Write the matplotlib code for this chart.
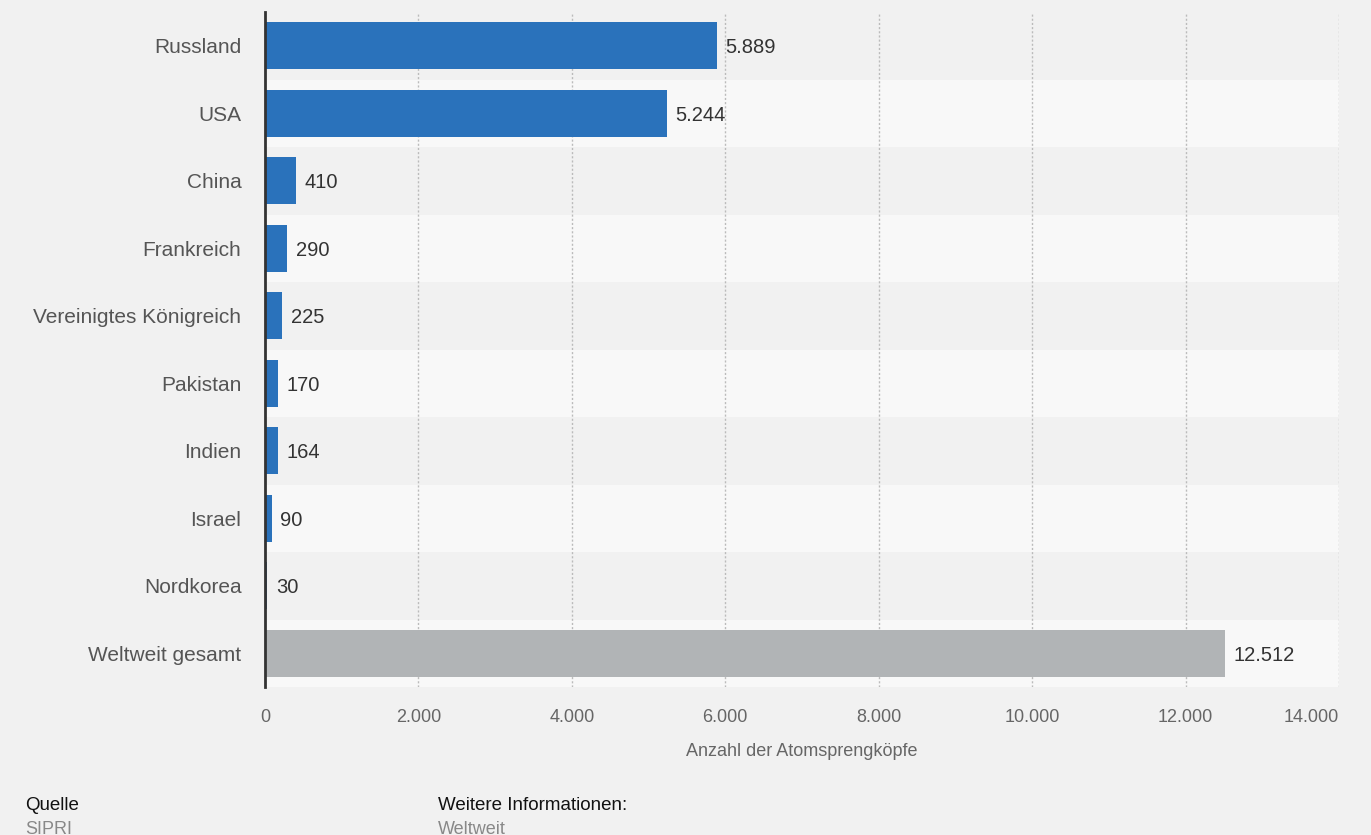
import matplotlib
matplotlib.use("Agg")
import matplotlib.pyplot as plt

categories = ["Russland", "USA", "China", "Frankreich", "Vereinigtes Königreich",
              "Pakistan", "Indien", "Israel", "Nordkorea", "Weltweit gesamt"]
values = [5889, 5244, 410, 290, 225, 170, 164, 90, 30, 12512]
value_labels = ["5.889", "5.244", "410", "290", "225", "170", "164", "90", "30", "12.512"]
xticks = [0, 2000, 4000, 6000, 8000, 10000, 12000, 14000]
xtick_labels = ["0", "2.000", "4.000", "6.000", "8.000", "10.000", "12.000", "14.000"]

plt.rcParams['font.family'] = ['Liberation Sans', 'DejaVu Sans']

W, H = 1371, 835
fig = plt.figure(figsize=(W/100, H/100), dpi=100)
fig.patch.set_facecolor("#f1f1f1")
ax = fig.add_axes([265/W, 1-687/H, (1339-265)/W, (687-12)/H])
ax.set_facecolor("#f1f1f1")

n = len(categories)
ypos = list(range(n))
for i in ypos:
    col = "#f1f1f1" if i % 2 == 0 else "#f8f8f8"
    ax.axhspan(i-0.5, i+0.5, color=col, zorder=0, lw=0)

colors = ["#2a72bb"]*(n-1) + ["#b1b4b6"]
ax.barh(ypos, values, height=0.7, color=colors, zorder=3)
for i, (v, lab) in enumerate(zip(values, value_labels)):
    ax.text(v + 110, i, lab, va="center_baseline", ha="left", fontsize=14.5,
            color="#333333", zorder=4)

ax.set_ylim(n-0.5, -0.5)
ax.set_xlim(0, 14000)
ax.set_yticks(ypos)
ax.set_yticklabels(categories, fontsize=15, color="#555555")
ax.set_xticks(xticks)
ax.set_xticklabels(xtick_labels, fontsize=13, color="#666666")
ax.get_xticklabels()[-1].set_horizontalalignment("right")
ax.tick_params(axis="both", length=0)
ax.tick_params(axis="y", pad=17)
ax.tick_params(axis="x", pad=16)
for g in xticks[1:]:
    ax.axvline(g, color="#bbbbbb", lw=1, ls=(0, (1.5, 1.5)), zorder=1)
for s in ["top", "right", "bottom"]:
    ax.spines[s].set_visible(False)
ax.spines["left"].set_color("#333333")
ax.spines["left"].set_linewidth(2)
ax.spines["left"].set_zorder(5)
ax.set_xlabel("Anzahl der Atomsprengköpfe", fontsize=13, color="#666666", labelpad=12)

fig.text(25/W, 1-806/H, "Quelle", fontsize=13.5, color="#111111", va="center")
fig.text(25/W, 1-829/H, "SIPRI", fontsize=13, color="#888888", va="center")
fig.text(438/W, 1-806/H, "Weitere Informationen:", fontsize=13.5, color="#111111", va="center")
fig.text(438/W, 1-829/H, "Weltweit", fontsize=13, color="#888888", va="center")

fig.savefig("out.png", dpi=100, facecolor=fig.get_facecolor())
